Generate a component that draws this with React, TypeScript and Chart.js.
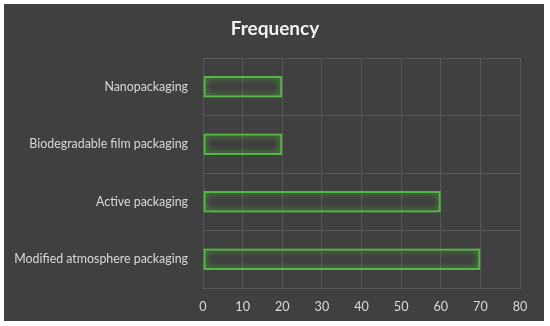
import React, { useEffect, useRef } from "react";
import { Chart, registerables } from "chart.js";

Chart.register(...registerables);

const categories = [
  "Nanopackaging",
  "Biodegradable film packaging",
  "Active packaging",
  "Modified atmosphere packaging",
];
const frequency = [20, 20, 60, 70];
const xTicks = [0, 10, 20, 30, 40, 50, 60, 70, 80];
const chartTitle = "Frequency";

const W = 550;
const H = 326;
const FONT = "Lato, 'Open Sans', sans-serif";

export default function App() {
  const ref = useRef<HTMLCanvasElement | null>(null);

  useEffect(() => {
    const canvas = ref.current;
    if (!canvas) return;

    const bgPlugin = {
      id: "bgPanel",
      beforeDraw(chart: any) {
        const ctx = chart.ctx;
        ctx.save();
        ctx.fillStyle = "#ffffff";
        ctx.fillRect(0, 0, W, H);
        ctx.fillStyle = "#404040";
        ctx.fillRect(4, 4, 540, 317);
        ctx.restore();
      },
      afterDraw(chart: any) {
        const ctx = chart.ctx;
        ctx.save();
        ctx.fillStyle = "#f2f2f2";
        ctx.font = `bold 19px ${FONT}`;
        ctx.textAlign = "center";
        ctx.textBaseline = "middle";
        ctx.fillText(chartTitle, W / 2, 28.5);
        ctx.restore();
      },
    };

    const glowPlugin = {
      id: "glow",
      beforeDatasetsDraw(chart: any) {
        const ctx = chart.ctx;
        ctx.save();
        ctx.shadowColor = "rgba(90, 210, 60, 0.9)";
        ctx.shadowBlur = 6;
      },
      afterDatasetsDraw(chart: any) {
        chart.ctx.restore();
      },
    };

    const chart = new Chart(canvas, {
      type: "bar",
      data: {
        labels: categories,
        datasets: [
          {
            label: chartTitle,
            data: frequency,
            backgroundColor: "rgba(0,0,0,0)",
            borderColor: "#52b843",
            borderWidth: 2,
            borderSkipped: false,
            categoryPercentage: 1,
            barPercentage: 0.37,
          },
        ],
      },
      options: {
        indexAxis: "y",
        responsive: false,
        animation: false,
        devicePixelRatio: 1,
        layout: { padding: { left: 0, right: 30, top: 58, bottom: 0 } },
        plugins: {
          legend: { display: false },
          tooltip: { enabled: false },
          title: { display: false },
        },
        scales: {
          x: {
            min: 0,
            max: 80,
            afterBuildTicks(scale: any) {
              scale.ticks = xTicks.map((v) => ({ value: v }));
            },
            afterFit(scale: any) {
              scale.height = 38;
            },
            grid: { color: "#575757", drawTicks: false, lineWidth: 1 },
            border: { display: true, color: "#575757" },
            ticks: {
              color: "#d9d9d9",
              font: { family: FONT, size: 12.6 },
              padding: 11,
            },
          },
          y: {
            afterFit(scale: any) {
              scale.width = 203;
            },
            grid: { color: "#575757", drawTicks: false, offset: true },
            border: { display: true, color: "#575757" },
            ticks: {
              color: "#d9d9d9",
              font: { family: FONT, size: 12.4 },
              padding: 15,
            },
          },
        },
      },
      plugins: [bgPlugin, glowPlugin],
    } as any);

    return () => chart.destroy();
  }, []);

  return (
    <div style={{ position: "fixed", left: 0, top: 0, width: W, height: H, background: "#fff" }}>
      <canvas ref={ref} width={W} height={H} style={{ display: "block", width: W, height: H }} />
    </div>
  );
}
